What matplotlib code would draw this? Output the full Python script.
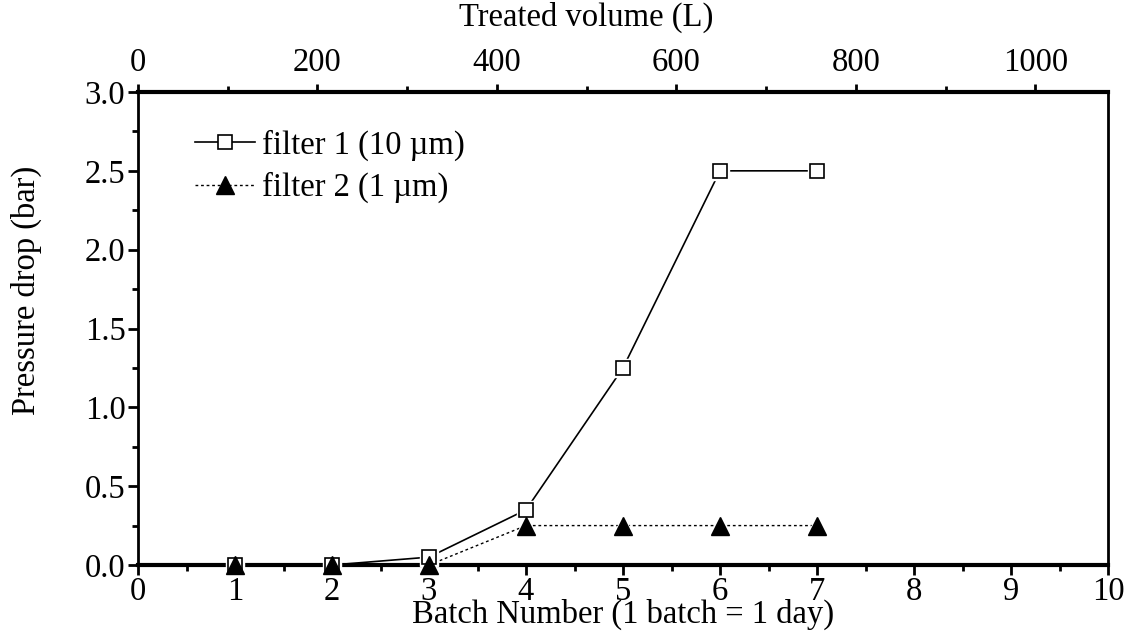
import matplotlib
matplotlib.use("Agg")
import matplotlib.pyplot as plt
from matplotlib.ticker import MultipleLocator

batch = [1, 2, 3, 4, 5, 6, 7]
filter1 = [0.0, 0.0, 0.05, 0.35, 1.25, 2.5, 2.5]
filter2 = [0.0, 0.0, 0.0, 0.25, 0.25, 0.25, 0.25]
litres_per_batch = 108.1
labels = ["filter 1 (10 µm)", "filter 2 (1 µm)"]

FS = 23.5
plt.rcParams['font.family'] = ['Liberation Serif', 'DejaVu Serif']
plt.rcParams['font.size'] = FS

fig = plt.figure(figsize=(11.31, 6.35), dpi=100)
ax = fig.add_axes([138/1131, 1-565/635, (1108-138)/1131, (565-92)/635])

# white halos to create gaps around markers
ax.plot(batch, filter1, '-', color='black', lw=1.2, zorder=2, clip_on=False)
ax.plot(batch, filter2, linestyle=(0, (2, 2)), color='black', lw=1.0, zorder=2, clip_on=False)
ax.plot(batch, filter1, 's', ms=13, mfc='white', mec='white', zorder=3, clip_on=False)
ax.plot(batch, filter2, '^', ms=16, mfc='white', mec='white', zorder=3, clip_on=False)
ax.plot(batch, filter1, 's', ms=10, mfc='white', mec='black', mew=1.2, zorder=4, clip_on=False)
ax.plot(batch, filter2, '^', ms=13, mfc='black', mec='black', zorder=5, clip_on=False)

h1, = ax.plot([], [], '-s', color='black', lw=1.2, ms=10, mfc='white', mew=1.2)
h2, = ax.plot([], [], '^', linestyle=(0, (2, 2)), color='black', lw=1.0, ms=13)
ax.legend([h1, h2], labels, loc='upper left', bbox_to_anchor=(0.059, 0.921),
          frameon=False, handlelength=1.84, handletextpad=0.2, labelspacing=0.35,
          borderaxespad=0, borderpad=0, fontsize=FS)

ax.set_xlim(0, 10)
ax.set_ylim(0, 3.0)
ax.xaxis.set_major_locator(MultipleLocator(1))
ax.xaxis.set_minor_locator(MultipleLocator(0.5))
ax.yaxis.set_major_locator(MultipleLocator(0.5))
ax.yaxis.set_minor_locator(MultipleLocator(0.25))
ax.yaxis.set_major_formatter(plt.FuncFormatter(lambda v, p: f"{v:.1f}"))
ax.tick_params(which='major', direction='out', length=7, width=2, labelsize=FS, pad=2)
ax.tick_params(which='minor', direction='out', length=4, width=2)
ax.tick_params(axis='x', which='major', pad=1)
ax.tick_params(axis='x', which='both', top=False)
ax.tick_params(axis='y', right=False)
ax.set_xlabel("Batch Number (1 batch = 1 day)", fontsize=FS, labelpad=-6)
ax.set_ylabel("Pressure drop (bar)", fontsize=FS)
ax.yaxis.set_label_coords(-0.099, 0.581)
ax.spines['bottom'].set_linewidth(3)
ax.spines['top'].set_linewidth(3)
ax.spines['left'].set_linewidth(2)
ax.spines['right'].set_linewidth(2)

ax2 = ax.twiny()
ax2.set_xlim(0, 10 * litres_per_batch)
ax2.xaxis.set_major_locator(MultipleLocator(200))
ax2.xaxis.set_minor_locator(MultipleLocator(100))
ax2.tick_params(which='major', direction='out', length=6, width=2, labelsize=FS, pad=4)
ax2.tick_params(which='minor', direction='out', length=4, width=2)
ax2.text(500, 1.125, "Treated volume (L)", transform=ax2.get_xaxis_transform(),
         ha='center', va='bottom', fontsize=FS)
for s in ax2.spines.values():
    s.set_visible(False)

fig.savefig("out.png", dpi=100)
